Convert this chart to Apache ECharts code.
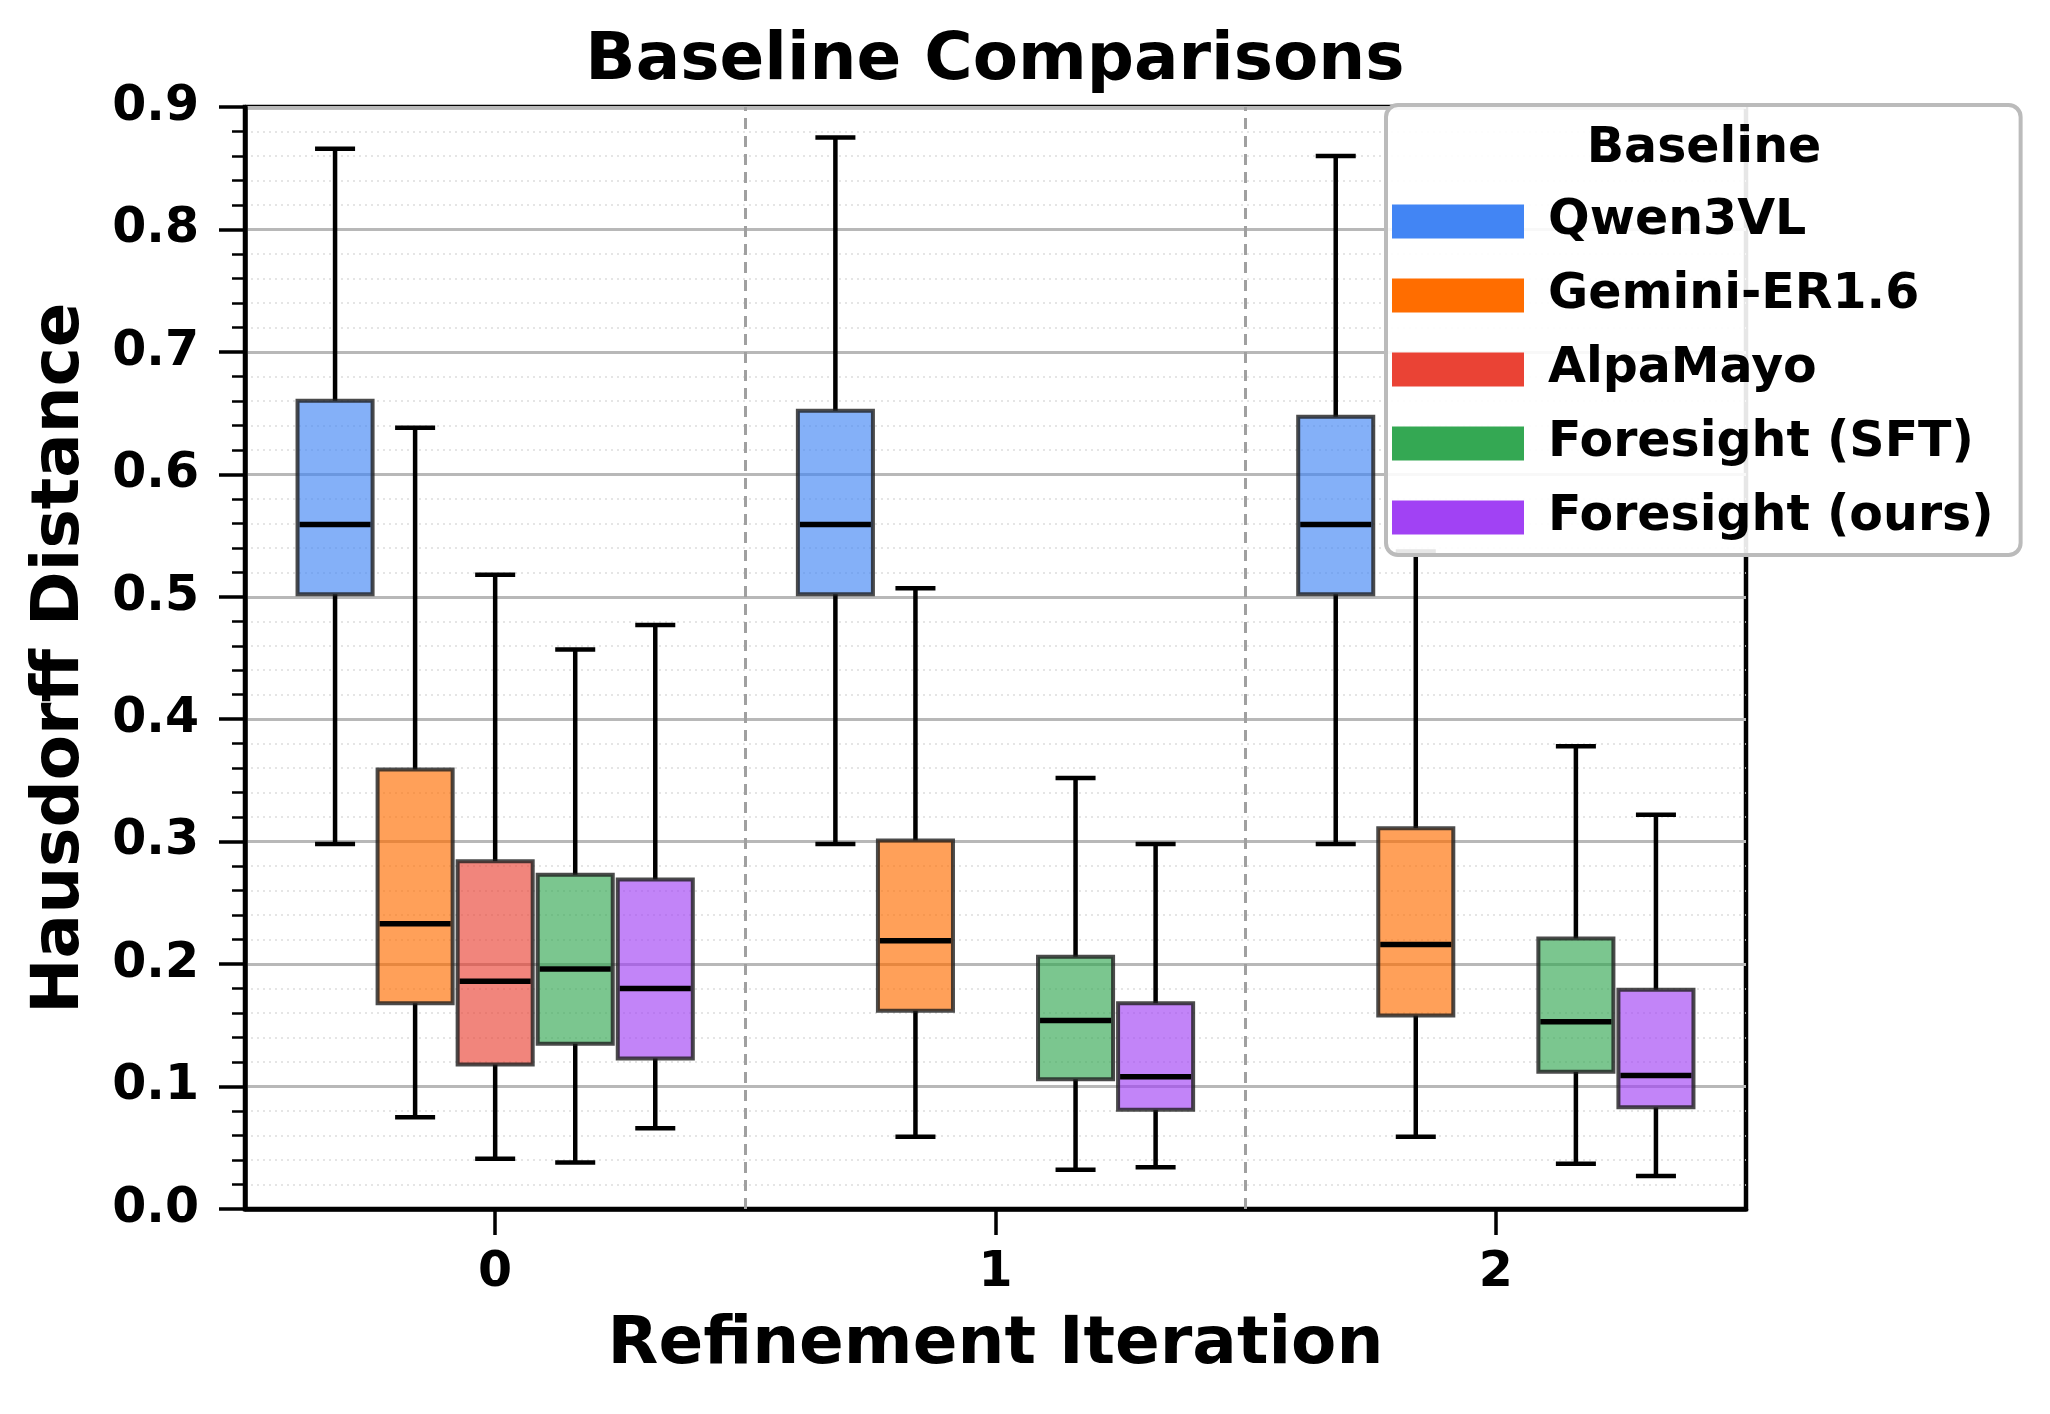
<!DOCTYPE html>
<html>
<head>
<meta charset="utf-8">
<title>Baseline Comparisons</title>
<script src="https://cdn.jsdelivr.net/npm/echarts@6/dist/echarts.min.js"></script>
<style>
  html, body { margin: 0; padding: 0; background: #fff; }
  #chart { width: 2050px; height: 1414px; }
</style>
</head>
<body>
<div id="chart"></div>
<script>
// x categories (refinement iteration)
const iterations = [0, 1, 2]
const yTicks = [0, 0.1, 0.2, 0.3, 0.4, 0.5, 0.6, 0.7, 0.8, 0.9]
const dividers = [0.5, 1.5]

const baselines = ['Qwen3VL', 'Gemini-ER1.6', 'AlpaMayo', 'Foresight (SFT)', 'Foresight (ours)']
const colors = ['#4285F4', '#FF6D00', '#EA4335', '#34A853', '#A142F4']

// [whisker low, q1, median, q3, whisker high] per iteration
const qwen3vl = [
  [0.298, 0.502, 0.559, 0.660, 0.866],
  [0.298, 0.502, 0.559, 0.652, 0.875],
  [0.298, 0.502, 0.559, 0.647, 0.860]
]
const geminiER = [
  [0.075, 0.168, 0.233, 0.359, 0.638],
  [0.059, 0.162, 0.219, 0.301, 0.507],
  [0.059, 0.158, 0.216, 0.311, 0.537]
]
const alpaMayo = [
  [0.041, 0.118, 0.186, 0.284, 0.518],
  null,
  null
]
const foresightSFT = [
  [0.038, 0.135, 0.196, 0.273, 0.457],
  [0.032, 0.106, 0.154, 0.206, 0.352],
  [0.037, 0.112, 0.153, 0.221, 0.378]
]
const foresightOurs = [
  [0.066, 0.123, 0.180, 0.269, 0.477],
  [0.034, 0.081, 0.108, 0.168, 0.298],
  [0.027, 0.083, 0.109, 0.179, 0.322]
]
const allStats = [qwen3vl, geminiER, alpaMayo, foresightSFT, foresightOurs]

const FONT = 'DejaVu Sans'
const BOX_W = 0.15
const CAP_W = 0.08
const STEP = 0.16

function hexAlpha(hex, a) {
  const n = parseInt(hex.slice(1), 16)
  return 'rgba(' + (n >> 16) + ',' + ((n >> 8) & 255) + ',' + (n & 255) + ',' + a + ')'
}

function renderBox(params, api) {
  const si = params.seriesIndex
  const x = api.value(0) + (si - 2) * STEP
  const lo = api.coord([x, api.value(1)])
  const q1 = api.coord([x, api.value(2)])
  const med = api.coord([x, api.value(3)])
  const q3 = api.coord([x, api.value(4)])
  const hi = api.coord([x, api.value(5)])
  const bw = api.size([BOX_W, 0])[0]
  const cw = api.size([CAP_W, 0])[0]
  const cx = lo[0]
  const black = { stroke: '#000', lineWidth: 4.5 }
  return {
    type: 'group',
    children: [
      { type: 'line', shape: { x1: cx, y1: lo[1], x2: cx, y2: q1[1] }, style: black },
      { type: 'line', shape: { x1: cx, y1: q3[1], x2: cx, y2: hi[1] }, style: black },
      { type: 'line', shape: { x1: cx - cw / 2, y1: lo[1], x2: cx + cw / 2, y2: lo[1] }, style: black },
      { type: 'line', shape: { x1: cx - cw / 2, y1: hi[1], x2: cx + cw / 2, y2: hi[1] }, style: black },
      {
        type: 'rect',
        shape: { x: cx - bw / 2, y: q3[1], width: bw, height: q1[1] - q3[1] },
        style: { fill: hexAlpha(colors[si], 0.65), stroke: 'rgba(30,30,30,0.8)', lineWidth: 4 }
      },
      { type: 'line', shape: { x1: cx - bw / 2 + 2, y1: med[1], x2: cx + bw / 2 - 2, y2: med[1] }, style: { stroke: '#000', lineWidth: 5.5 } }
    ]
  }
}

const series = baselines.map((name, i) => {
  const data = []
  iterations.forEach((it, k) => {
    const s = allStats[i][k]
    if (s) data.push([it].concat(s))
  })
  const ser = {
    name: name,
    type: 'custom',
    renderItem: renderBox,
    itemStyle: { color: colors[i] },
    encode: { x: 0, y: [1, 2, 3, 4, 5] },
    clip: false,
    data: data
  }
  if (i === 0) {
    ser.markLine = {
      silent: true,
      symbol: 'none',
      label: { show: false },
      lineStyle: { color: '#a0a0a0', type: [11, 7], width: 3 },
      data: dividers.map(d => ({ xAxis: d }))
    }
  }
  return ser
})

const chart = echarts.init(document.getElementById('chart'))
chart.setOption({
  animation: false,
  backgroundColor: '#fff',
  textStyle: { fontFamily: FONT, color: '#000' },
  grid: {
    left: 245, right: 304, top: 107, bottom: 205,
    show: true, borderColor: '#000', borderWidth: 4.5, backgroundColor: 'transparent'
  },
  graphic: [
    {
      type: 'text', x: 995, y: 62, z: 100,
      style: { text: 'Baseline Comparisons', font: 'bold 66px "DejaVu Sans"', fill: '#000', align: 'center', verticalAlign: 'middle' }
    },
    {
      type: 'text', x: 1704, y: 149, z: 100,
      style: { text: 'Baseline', font: 'bold 49px "DejaVu Sans"', fill: '#000', align: 'center', verticalAlign: 'middle' }
    }
  ],
  legend: {
    orient: 'vertical',
    left: 1386,
    top: 105,
    padding: [92, 27, 13, 6],
    itemGap: 25,
    itemWidth: 132,
    itemHeight: 34,
    icon: 'rect',
    backgroundColor: 'rgba(255,255,255,0.9)',
    borderColor: '#bbb',
    borderWidth: 4,
    borderRadius: 12,
    z: 20,
    textStyle: { fontSize: 49, fontWeight: 'bold', fontFamily: FONT, color: '#000', padding: [0, 0, 0, 19] },
    data: baselines.map((n, i) => ({ name: n, itemStyle: { color: colors[i], borderWidth: 0 } }))
  },
  xAxis: {
    type: 'value',
    min: -0.5,
    max: 2.5,
    interval: 0.5,
    name: 'Refinement Iteration',
    nameLocation: 'middle',
    nameGap: 104,
    nameTextStyle: { fontSize: 66, fontWeight: 'bold', fontFamily: FONT, color: '#000' },
    axisLine: { show: true, onZero: false, lineStyle: { color: '#000', width: 4.5 } },
    axisTick: { show: true, length: 26, lineStyle: { color: '#000', width: 3.5 }, customValues: iterations },
    axisLabel: {
      customValues: iterations,
      margin: 40,
      fontSize: 49, fontWeight: 'bold', fontFamily: FONT, color: '#000',
      formatter: v => String(Math.round(v))
    },
    splitLine: { show: false }
  },
  yAxis: {
    type: 'value',
    min: yTicks[0],
    max: yTicks[yTicks.length - 1],
    interval: 0.1,
    name: 'Hausdorff Distance',
    nameLocation: 'middle',
    nameGap: 151,
    nameTextStyle: { fontSize: 66, fontWeight: 'bold', fontFamily: FONT, color: '#000' },
    axisLine: { show: true, onZero: false, lineStyle: { color: '#000', width: 4.5 } },
    axisTick: { show: true, length: 26, lineStyle: { color: '#000', width: 3.5 } },
    minorTick: { show: true, splitNumber: 5, length: 13, lineStyle: { color: '#000', width: 2.5 } },
    axisLabel: {
      margin: 46,
      fontSize: 49, fontWeight: 'bold', fontFamily: FONT, color: '#000',
      formatter: v => v.toFixed(1)
    },
    splitLine: { show: true, lineStyle: { color: '#b8b8b8', width: 3 } },
    minorSplitLine: { show: true, lineStyle: { color: '#ddd', width: 1.5, type: [2, 4] } }
  },
  series: series
})
</script>
</body>
</html>
